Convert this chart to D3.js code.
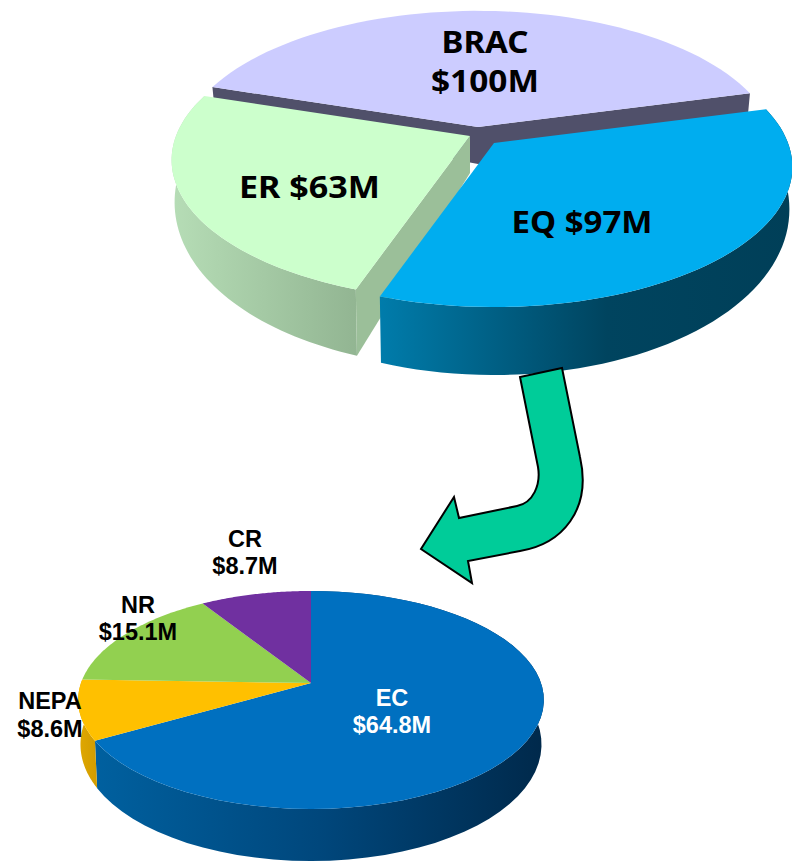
<!DOCTYPE html>
<html><head><meta charset="utf-8">
<script src="https://cdn.jsdelivr.net/npm/d3@7"></script>
<style>html,body{margin:0;padding:0;background:#fff}svg{display:block}</style>
</head><body>
<svg id="chart" width="792" height="862"></svg>
<script>
// --- data ---
const topCategories = ["BRAC", "EQ", "ER"];
const topValues = [100, 97, 63];            // $M, as labelled
const topDrawnSweeps = [147, 124, 89];      // the wedge sizes as drawn in the (perspective) picture
const subCategories = ["EC", "NEPA", "NR", "CR"];
const subValues = [64.8, 8.6, 15.1, 8.7];   // $M, as labelled

// --- styles ---
const topColors = {BRAC:"#CCCCFF", EQ:"#00ADEF", ER:"#CCFFCC"};
const subColors = {EC:"#0070C0", NEPA:"#FFC000", NR:"#92D050", CR:"#7030A0"};
const sideStops = {
  EQ:[[0,"#007CAB"],[0.55,"#00445F"],[1,"#003F58"]],
  ER:[[0,"#B6DDB6"],[1,"#92B592"]],
  EC:[[0,"#00609F"],[0.5,"#00477C"],[1,"#00294B"]],
  NEPA:[[0,"#E0A800"],[1,"#D19C00"]]
};
const D2R = Math.PI/180;
const svg = d3.select("#chart");
const defs = svg.append("defs");
Object.entries(sideStops).forEach(([k,st])=>{
  const g = defs.append("linearGradient").attr("id","side"+k).attr("x1",0).attr("x2",1).attr("y1",0).attr("y2",0);
  st.forEach(s=>g.append("stop").attr("offset",s[0]).attr("stop-color",s[1]));
});
const line = d3.line();

// perspective disc: apex is the wedge tip, p the foreshortening
function disc(o){
  const top = (ax,ay,t)=>{
    const u=Math.sin(t), v=-Math.cos(t), w=1-o.p*v;
    return [ax+o.rx*u/w, ay+o.ry*v/w];
  };
  const low = (ax,ay,t)=>{
    const q=top(ax,ay,t), v=-Math.cos(t);
    return [ax+(q[0]-ax)*o.taper, q[1]+o.d0+o.d1*v];
  };
  const samples = (a,b)=>d3.range(0,61).map(i=>a+(b-a)*i/60);
  return {
    top, low, samples,
    wedge:(ax,ay,a,b)=>line([[ax,ay],...samples(a,b).map(t=>top(ax,ay,t))])+"Z",
    side:(ax,ay,a,b)=>line([...samples(a,b).map(t=>top(ax,ay,t)),...samples(a,b).reverse().map(t=>low(ax,ay,t))])+"Z",
    apexLow:(ax,ay)=>[ax,ay+o.d0]
  };
}

// ---------- upper pie ----------
const topArcs = d3.pie().sort(null).startAngle(-72*D2R).endAngle(288*D2R)(topDrawnSweeps);
const topApex = {BRAC:[478,127], EQ:[494,143], ER:[470,136]};
const T = disc({rx:294, ry:136, p:0.171, d0:37, d1:31, taper:0.99});
const arcOf = n=>topArcs[topCategories.indexOf(n)];
const gTop = svg.append("g");

// BRAC: only the dark cut faces show
{
  const a=arcOf("BRAC"), [ax,ay]=topApex.BRAC;
  gTop.append("path").attr("fill","#50506A").attr("d",line([
    T.top(ax,ay,a.startAngle),[ax,ay],T.top(ax,ay,a.endAngle),
    T.low(ax,ay,a.endAngle),T.apexLow(ax,ay),T.low(ax,ay,a.startAngle)])+"Z");
  gTop.append("path").attr("fill",topColors.BRAC).attr("d",T.wedge(ax,ay,a.startAngle,a.endAngle));
}
// ER: rim, cut face, top
{
  const a=arcOf("ER"), [ax,ay]=topApex.ER;
  gTop.append("path").attr("fill","url(#sideER)").attr("d",T.side(ax,ay,a.startAngle,a.endAngle));
  gTop.append("path").attr("fill","#9BBF99").attr("d",line([
    [ax,ay],T.top(ax,ay,a.startAngle),T.low(ax,ay,a.startAngle),T.apexLow(ax,ay)])+"Z");
  gTop.append("path").attr("fill",topColors.ER).attr("d",T.wedge(ax,ay,a.startAngle,a.endAngle));
}
// EQ: rim, top
{
  const a=arcOf("EQ"), [ax,ay]=topApex.EQ;
  gTop.append("path").attr("fill","url(#sideEQ)").attr("d",T.side(ax,ay,a.startAngle,a.endAngle));
  gTop.append("path").attr("fill",topColors.EQ).attr("d",T.wedge(ax,ay,a.startAngle,a.endAngle));
}

// ---------- lower pie ----------
const subArcs = d3.pie().sort(null)(subValues);
const S = disc({rx:230, ry:106.4, p:0.156, d0:43, d1:9, taper:0.99});
const subApex = [311,683];
const gSub = svg.append("g");
subArcs.forEach((a,i)=>{
  const k=subCategories[i];
  if(sideStops[k]) gSub.append("path").attr("fill",`url(#side${k})`).attr("d",S.side(subApex[0],subApex[1],a.startAngle,a.endAngle));
});
subArcs.forEach((a,i)=>{
  const k=subCategories[i];
  gSub.append("path").attr("fill",subColors[k]).attr("d",S.wedge(subApex[0],subApex[1],a.startAngle,a.endAngle));
});

// ---------- arrow ----------
const ar = d3.path();
ar.moveTo(520,377); ar.lineTo(538,467);
ar.bezierCurveTo(541,485,533,503,517,506);
ar.lineTo(459,518); ar.lineTo(454,497); ar.lineTo(421,549); ar.lineTo(472,583); ar.lineTo(468,561); ar.lineTo(520,551);
ar.bezierCurveTo(562,544,592,510,580,457);
ar.lineTo(562,368); ar.closePath();
svg.append("path").attr("d",ar.toString()).attr("fill","#00CC99").attr("stroke","#000").attr("stroke-width",2).attr("stroke-linejoin","miter");

// ---------- labels ----------
const money = v=>"$"+v+"M";
const topLabels = [
  {lines:[topCategories[0], money(topValues[0])], x:485, y:[53,92], w:[87,108]},
  {lines:[`${topCategories[2]} ${money(topValues[2])}`], x:309.5, y:[198], w:[141]},
  {lines:[`${topCategories[1]} ${money(topValues[1])}`], x:582, y:[233], w:[141]}
];
const subLabels = [
  {lines:[subCategories[0], money(subValues[0].toFixed(1))], x:392, y:[706,733], fill:"#fff"},
  {lines:[subCategories[1], money(subValues[1].toFixed(1))], x:50, y:[709,737]},
  {lines:[subCategories[2], money(subValues[2].toFixed(1))], x:138, y:[613,640]},
  {lines:[subCategories[3], money(subValues[3].toFixed(1))], x:245, y:[547,574]}
];
function label(list, family, size){
  list.forEach(l=>l.lines.forEach((t,i)=>{
    const s=svg.append("text").attr("x",l.x).attr("y",l.y[i]).attr("text-anchor","middle")
      .attr("font-family",family).attr("font-weight",700).attr("font-size",size)
      .attr("fill",l.fill||"#000").text(t);
    if(l.w) s.attr("textLength",l.w[i]).attr("lengthAdjust","spacingAndGlyphs");
  }));
}
label(topLabels,"'Noto Sans'",31);
label(subLabels,"'Liberation Sans'",23.5);
</script>
</body></html>
